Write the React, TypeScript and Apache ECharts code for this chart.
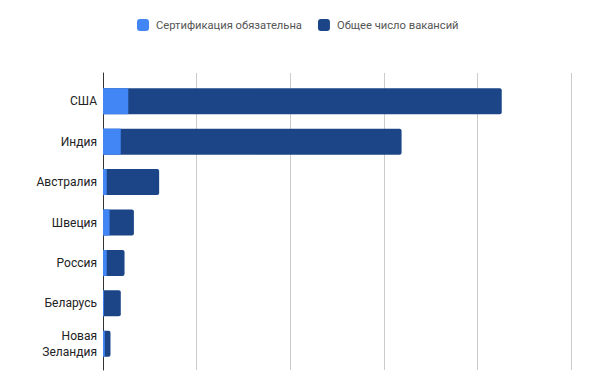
import React, { useEffect, useRef } from "react";
import * as echarts from "echarts";

const categories = ["США", "Индия", "Австралия", "Швеция", "Россия", "Беларусь", "Новая\nЗеландия"];
const certRequired = [27, 19, 4, 7, 4, 1, 2];
const totalVacancies = [426, 319, 60, 33, 23, 19, 8];
const seriesNames = ["Сертификация обязательна", "Общее число вакансий"];
const axisMax = 500;
const axisInterval = 100;

export default function App() {
  const ref = useRef<HTMLDivElement>(null);
  useEffect(() => {
    if (!ref.current) return;
    const chart = echarts.init(ref.current, null, { renderer: "svg" });
    chart.setOption({
      animation: false,
      textStyle: { fontFamily: "Roboto, Arial, sans-serif" },
      legend: {
        top: 14,
        left: 132,
        itemWidth: 12,
        itemHeight: 12,
        itemGap: 16,
        icon: "roundRect",
        textStyle: {
          fontSize: 11.2,
          color: "#555555",
          padding: [0, 0, 0, 2],
          fontFamily: "Roboto, Arial, sans-serif",
        },
        data: [seriesNames[0], seriesNames[1]],
      },
      grid: [
        { left: 103, right: 29, top: 81, bottom: 7 },
        { left: 103, right: 29, top: 73, bottom: 1 },
      ],
      xAxis: [
        {
          gridIndex: 0,
          type: "value",
          min: 0,
          max: axisMax,
          interval: axisInterval,
          show: false,
        },
        {
          gridIndex: 1,
          type: "value",
          min: 0,
          max: axisMax,
          interval: axisInterval,
          axisLine: { show: false },
          axisTick: { show: false },
          axisLabel: { show: false },
          splitLine: { show: true, lineStyle: { color: "#cccccc", width: 1 } },
        },
      ],
      yAxis: [
        {
          gridIndex: 0,
          type: "category",
          inverse: true,
          data: categories,
          axisLine: { show: false },
          axisTick: { show: false },
          axisLabel: {
            fontSize: 12,
            color: "#222222",
            margin: 6,
            lineHeight: 16,
            align: "right",
            fontFamily: "Roboto, Arial, sans-serif",
          },
        },
        {
          gridIndex: 1,
          type: "value",
          min: 0,
          max: 1,
          axisLine: { show: true, onZero: false, lineStyle: { color: "#333333", width: 1 } },
          axisTick: { show: false },
          axisLabel: { show: false },
          splitLine: { show: false },
        },
      ],
      series: [
        {
          name: seriesNames[1],
          type: "bar",
          xAxisIndex: 0,
          yAxisIndex: 0,
          data: totalVacancies,
          barWidth: 26,
          barGap: "-100%",
          itemStyle: { color: "#1c4587", borderRadius: [0, 2, 2, 0] },
          z: 2,
        },
        {
          name: seriesNames[0],
          type: "bar",
          xAxisIndex: 0,
          yAxisIndex: 0,
          data: certRequired,
          barWidth: 26,
          barGap: "-100%",
          itemStyle: { color: "#4285f4" },
          z: 3,
        },
      ],
    });
    return () => chart.dispose();
  }, []);
  return <div ref={ref} style={{ width: 600, height: 371, position: "absolute", left: 0, top: 0 }} />;
}
